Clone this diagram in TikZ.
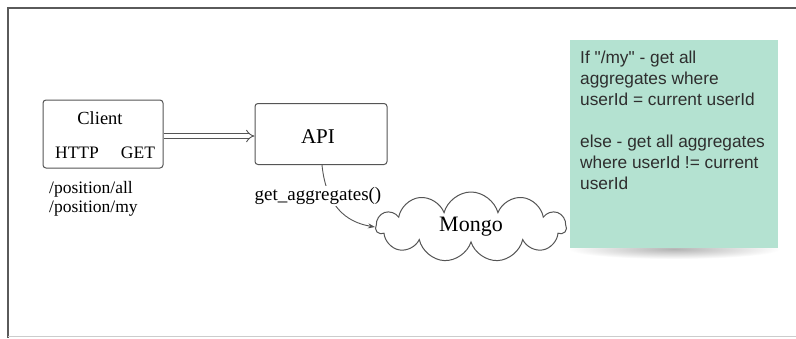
\documentclass[tikz,border=0pt]{standalone}
\usepackage{fontspec}
\setmainfont{Liberation Serif}
\newfontfamily\notefont{Liberation Sans}
\usetikzlibrary{shapes.symbols,arrows.meta}
\definecolor{framegray}{HTML}{5A5A5A}
\definecolor{boxgray}{HTML}{555555}
\definecolor{notegreen}{HTML}{B4E2D1}
\definecolor{notetext}{HTML}{2E2E2E}
\tikzset{
  box/.style={draw=boxgray, line width=1pt, rounded corners=3pt, fill=white},
  lbl/.style={inner sep=0pt, text=black},
  notebox/.style={fill=notegreen, draw=none},
  notetxt/.style={font=\notefont\fontsize{17.3}{21}\selectfont, text=notetext, anchor=north west, align=left, inner sep=0pt},
}
\begin{document}
\begin{tikzpicture}[x=1pt,y=-1pt]
\useasboundingbox (0,0) rectangle (796,338);
\fill[white] (0,0) rectangle (796,338);
% frame
\coordinate (ftop) at (796,8);
\coordinate (fcorner) at (8,8);
\coordinate (fbot) at (8,338);
\draw[framegray, line width=1.2pt] (ftop) -- (fcorner) -- (fbot);
\draw[gray!40, line width=0.6pt] (8,336) -- (796,336);
% client
\node[box, minimum width=120pt, minimum height=68pt] (client) at (103,134) {};
\node[lbl, font=\fontsize{18.5}{20}\selectfont] (clienttitle) at (100,118) {Client};
\node[lbl, font=\fontsize{17.5}{20}\selectfont] (http) at (77,153) {HTTP};
\node[lbl, font=\fontsize{17.5}{20}\selectfont] (get) at (138,153) {GET};
\node[lbl, font=\fontsize{17.5}{19}\selectfont, align=left, anchor=north west] (paths) at (49,181) {/position/all\\/position/my};
% API
\node[box, minimum width=132pt, minimum height=61pt] (api) at (321,134) {};
\node[lbl, font=\fontsize{21}{24}\selectfont] (apititle) at (318,137) {API};
% double arrow
\draw[boxgray, double, double distance=3.5pt, line width=0.9pt, -{Implies[length=4pt]}] (client.east |- 0,136) -- (api.west |- 0,136);
% mongo cloud
\node[cloud, draw=boxgray, line width=1pt, cloud puffs=11, aspect=2.6, minimum width=190pt, minimum height=70pt, inner sep=0pt, font=\fontsize{22}{24}\selectfont] (mongo) at (471,227) {Mongo};
% connector
\draw[boxgray, line width=0.9pt, -{Stealth[length=7pt,width=5pt]}] ([xshift=1pt]api.south) .. controls (326,205) and (345,222) .. (mongo.west);
\node[lbl, fill=white, inner sep=1pt, font=\fontsize{19}{22}\selectfont] (getagg) at (318,196) {get\_aggregates()};
% note shadow
\shade[inner color=black!30, outer color=white] (674,249) ellipse [x radius=106pt, y radius=10pt];
% note
\node[notebox, minimum width=208pt, minimum height=208pt, anchor=north west, inner sep=0pt] (note) at (570,40) {};
\node[notetxt] (notetext) at (580,51) {If "/my" - get all\\aggregates where\\userId = current userId\\[21pt]else - get all aggregates\\where userId != current\\userId};
\end{tikzpicture}
\end{document}
